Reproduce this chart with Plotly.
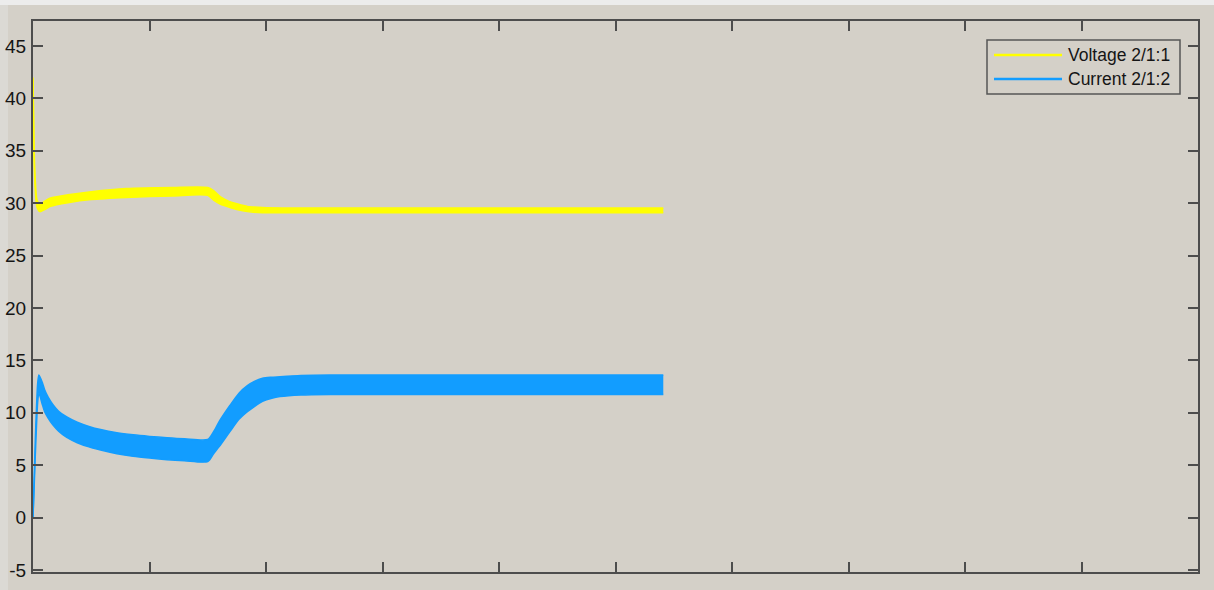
import plotly.graph_objects as go

# Time axis (s) and envelope of the rippling voltage / current signals
volt_t = [0.0, 0.008, 0.018, 0.035, 0.06, 0.1, 0.15, 0.3, 0.5, 0.8, 1.2, 1.5,
          1.55, 1.61, 1.69, 1.75, 1.84, 1.97, 2.2, 5.41]
volt_upper = [42.0, 36.0, 32.5, 30.3, 29.9, 30.2, 30.5, 30.8, 31.1, 31.4, 31.5, 31.5,
              31.2, 30.6, 30.15, 29.95, 29.7, 29.6, 29.55, 29.55]
volt_lower = [41.8, 35.0, 31.5, 29.6, 29.2, 29.4, 29.7, 30.05, 30.35, 30.55, 30.7, 30.75,
              30.3, 29.9, 29.6, 29.4, 29.2, 29.1, 29.1, 29.1]

curr_t = [0.0, 0.02, 0.04, 0.05, 0.06, 0.08, 0.10, 0.13, 0.17, 0.22, 0.29, 0.38,
          0.48, 0.58, 0.72, 0.86, 1.0, 1.15, 1.3, 1.5, 1.55, 1.6, 1.69, 1.77,
          1.84, 1.9, 1.97, 2.05, 2.12, 2.3, 2.55, 5.41]
curr_upper = [0.0, 7.5, 12.8, 13.6, 13.4, 12.9, 12.2, 11.5, 10.8, 10.15, 9.6, 9.1,
              8.7, 8.4, 8.1, 7.9, 7.75, 7.62, 7.52, 7.45, 8.2, 9.2, 10.7, 11.9,
              12.6, 13.0, 13.3, 13.4, 13.45, 13.55, 13.6, 13.6]
curr_lower = [0.0, 6.0, 11.0, 11.9, 11.6, 10.8, 10.1, 9.5, 8.85, 8.25, 7.65, 7.15,
              6.75, 6.45, 6.1, 5.85, 5.68, 5.53, 5.43, 5.35, 6.1, 6.8, 8.2, 9.4,
              10.1, 10.6, 11.1, 11.4, 11.55, 11.7, 11.75, 11.75]

series_names = ["Voltage 2/1:1", "Current 2/1:2"]
series_colors = ["#ffff00", "#129dff"]

x_ticks = list(range(0, 11))
y_ticks = [-5, 0, 5, 10, 15, 20, 25, 30, 35, 40, 45]
y_tick_text = ["-5", "0", "5", "10", "15", "20", "25", "30", "35", "40", "45"]

BG = "#d4d0c8"
AXIS = "#4d4d4d"
TEXT = "#151515"

fig = go.Figure()

# Each signal is drawn as a filled band between its ripple envelopes
for t, lo, hi, color in [(volt_t, volt_lower, volt_upper, series_colors[0]),
                         (curr_t, curr_lower, curr_upper, series_colors[1])]:
    fig.add_trace(go.Scatter(x=t, y=lo, mode="lines",
                             line=dict(color=color, width=1.5, shape="spline", smoothing=0.7),
                             showlegend=False, hoverinfo="skip"))
    fig.add_trace(go.Scatter(x=t, y=hi, mode="lines", fill="tonexty", fillcolor=color,
                             line=dict(color=color, width=1.5, shape="spline", smoothing=0.7),
                             showlegend=False, hoverinfo="skip"))

# Plot-area geometry in pixels, used to place the legend box
W, H = 1214, 590
ML, MR, MT, MB = 33, 16, 21, 18
PW, PH = W - ML - MR, H - MT - MB


def px(x):
    return (x - ML) / PW


def py(y):
    return (H - MB - y) / PH


shapes = [
    # light strips along the top and left edge of the window
    dict(type="rect", xref="paper", yref="paper", x0=px(0), x1=px(W), y0=py(5), y1=py(0),
         fillcolor="#ececec", line=dict(width=0), layer="below"),
    dict(type="rect", xref="paper", yref="paper", x0=px(0), x1=px(8), y0=py(H), y1=py(5),
         fillcolor="#dbd9d4", line=dict(width=0), layer="below"),
    # legend box
    dict(type="rect", xref="paper", yref="paper", x0=px(987), x1=px(1180), y0=py(94), y1=py(40),
         fillcolor=BG, line=dict(color="#555555", width=1.5), layer="above"),
]
annotations = []
for i, (name, color) in enumerate(zip(series_names, series_colors)):
    yrow = 55 + i * 24
    shapes.append(dict(type="line", xref="paper", yref="paper",
                       x0=px(994), x1=px(1062), y0=py(yrow), y1=py(yrow),
                       line=dict(color=color, width=2.5), layer="above"))
    annotations.append(dict(xref="paper", yref="paper", x=px(1066), y=py(yrow),
                            text=name, showarrow=False, xanchor="left", yanchor="middle",
                            font=dict(family="Liberation Sans, Arial", size=17.5, color=TEXT)))

fig.update_layout(
    width=W, height=H,
    margin=dict(l=ML, r=MR, t=MT, b=MB, pad=0, autoexpand=False),
    paper_bgcolor=BG, plot_bgcolor=BG,
    showlegend=False,
    shapes=shapes, annotations=annotations,
    font=dict(family="Liberation Sans, Arial", size=19, color=TEXT),
)
fig.update_xaxes(range=[0, 10], tickvals=x_ticks, showticklabels=False,
                 ticks="inside", ticklen=10, tickwidth=1.5, tickcolor=AXIS,
                 showline=True, linecolor=AXIS, linewidth=2, mirror="allticks",
                 showgrid=False, zeroline=False, automargin=False)
fig.update_yaxes(range=[-5.19, 47.39], tickvals=y_ticks, ticktext=y_tick_text,
                 ticks="inside", ticklen=10, tickwidth=1.5, tickcolor=AXIS,
                 showline=True, linecolor=AXIS, linewidth=2, mirror="allticks",
                 showgrid=False, zeroline=False, automargin=False, ticklabelstandoff=1)

fig.write_html("out.html")
